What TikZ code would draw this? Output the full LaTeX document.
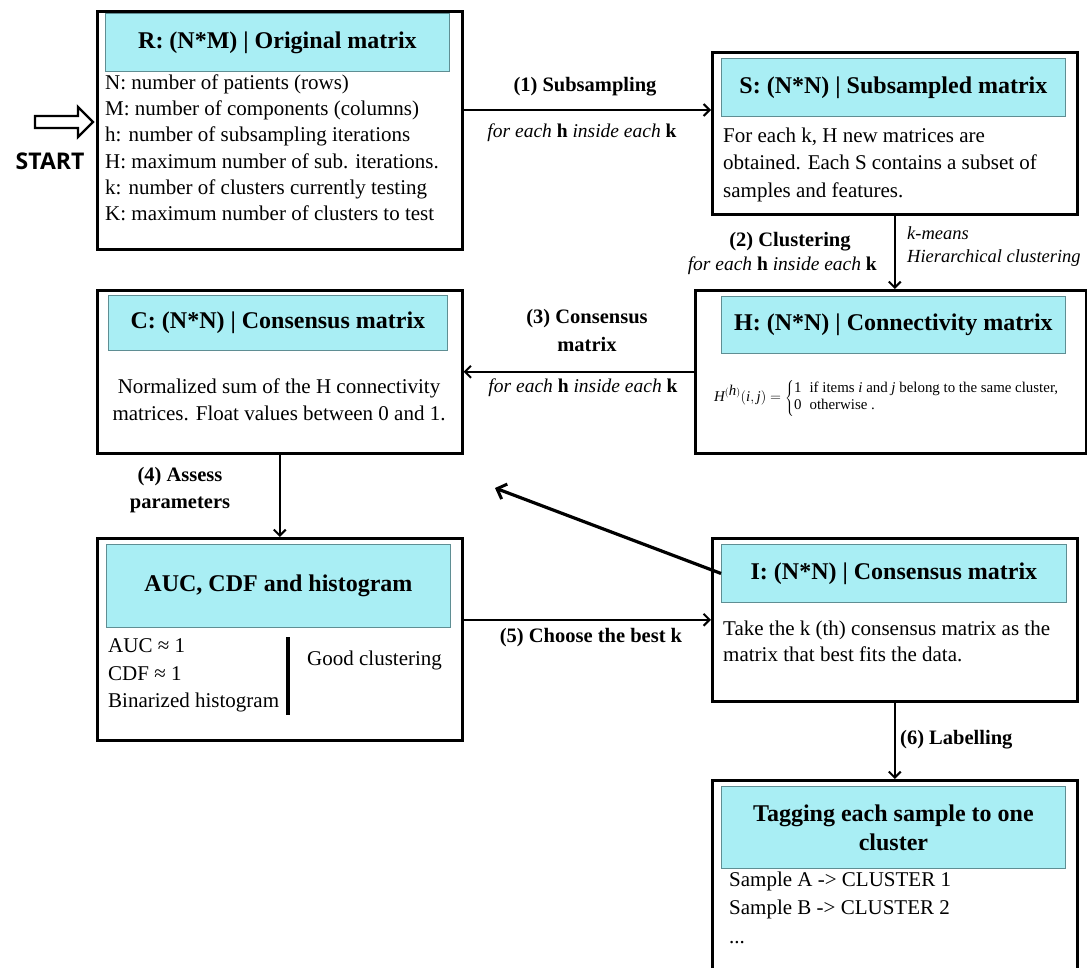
\documentclass[tikz,border=0pt]{standalone}
\usepackage{fontspec}
\setmainfont{Liberation Serif}
\newfontfamily\startfont{Open Sans}
\usetikzlibrary{arrows.meta,calc}

\definecolor{headfill}{HTML}{A9EEF4}
\definecolor{headline}{HTML}{5F8E93}

\newcommand\fsz[2]{\fontsize{#1}{#2}\selectfont}
\newcommand\loopnote{\textit{for each} \textbf{h} \textit{inside each} \textbf{k}}

\begin{document}
\begin{tikzpicture}[x=1pt,y=-1pt,
  frame/.style={draw=black,line width=2.6pt,fill=white,inner sep=0,anchor=north west},
  header/.style={draw=headline,line width=0.9pt,fill=headfill,inner sep=0,anchor=north west,
                 font=\bfseries\fsz{24}{29},align=center},
  body/.style={inner sep=0,anchor=north west,align=left,font=\fsz{21}{27}},
  steplabel/.style={inner sep=0,font=\bfseries\fsz{20.5}{27},align=center},
  loopnotes/.style={inner sep=0,font=\fsz{19.5}{24}},
  arr/.style={line width=2pt,-{Straight Barb[length=6pt,width=12pt,line width=2pt]}},
  backarr/.style={line width=3.2pt,-{Straight Barb[length=8pt,width=16pt,line width=3pt]}}
]
\useasboundingbox (0,0) rectangle (1087,967);
\clip (0,0) rectangle (1087,967);
\fill[white] (0,0) rectangle (1087,967);

% ---------- entry point ----------
\draw[line width=2.4pt,fill=white,line join=miter]
  (35,116) -- (78,116) -- (78,107) -- (93,122) -- (78,137) -- (78,128) -- (35,128) -- cycle;
\node[inner sep=0,font=\startfont\bfseries\fsz{23}{26}] (start) at (50,161) {START};

% ---------- R: original matrix ----------
\node[frame,minimum width=365pt,minimum height=238pt] (R) at (96,10) {};
\node[header,minimum width=344pt,minimum height=58pt] (Rh) at (105,13) {R: (N*M) | Original matrix};
\node[body,font=\fsz{21}{26.2}] (Rt) at (105,74.5) {N: number of patients (rows)\\
M: number of components (columns)\\
h: number of subsampling iterations\\
H: maximum number of sub. iterations.\\
k: number of clusters currently testing\\
K: maximum number of clusters to test};

% ---------- S: subsampled matrix ----------
\node[frame,minimum width=365pt,minimum height=162pt] (S) at (711,51) {};
\node[header,minimum width=344pt,minimum height=58pt] (Sh) at (721,58) {S: (N*N) | Subsampled matrix};
\node[body,font=\fsz{21}{27.5}] (St) at (723,127.5) {For each k, H new matrices are\\
obtained. Each S contains a subset of\\
samples and features.};

% ---------- H: connectivity matrix ----------
\node[frame,minimum width=391pt,minimum height=163pt] (H) at (694,289) {};
\node[header,minimum width=344pt,minimum height=57pt] (Hh) at (721,296) {H: (N*N) | Connectivity matrix};
\node[inner sep=0,anchor=west,font=\fsz{14.9}{17}] (Hf) at (714,398)
  {$\textit{H}^{(\textit{h})}(\textit{i}, \textit{j}) = \left\{\begin{tabular}{@{}l@{\hspace{8pt}}l@{}}
   1 & if items \textit{i} and \textit{j} belong to the same cluster,\\
   0 & otherwise .\end{tabular}\right.$};

% ---------- C: consensus matrix ----------
\node[frame,minimum width=365pt,minimum height=163pt] (C) at (96,289) {};
\node[header,minimum width=339pt,minimum height=55pt] (Ch) at (108,295) {C: (N*N) | Consensus matrix};
\node[body,anchor=north,align=center,font=\fsz{21}{27}] (Ct) at (279,378.5) {Normalized sum of the H connectivity\\
matrices. Float values between 0 and 1.};

% ---------- AUC, CDF and histogram ----------
\node[frame,minimum width=365pt,minimum height=202pt] (A) at (96,537) {};
\node[header,minimum width=344pt,minimum height=83pt] (Ah) at (106,544) {AUC, CDF and histogram};
\node[body,font=\fsz{21}{27.5}] (At) at (108,638.5) {AUC ≈ 1\\
CDF ≈ 1\\
Binarized histogram};
\node[inner sep=0,minimum width=3.5pt,minimum height=78pt,fill=black,anchor=north] (Abar) at (288,637) {};
\node[inner sep=0,anchor=west,font=\fsz{21}{27}] (Agood) at (307,660) {Good clustering};

% ---------- I: chosen consensus matrix ----------
\node[frame,minimum width=365pt,minimum height=163pt] (I) at (711,537) {};
\node[header,minimum width=345pt,minimum height=58pt] (Ih) at (721,544) {I: (N*N) | Consensus matrix};
\node[body,font=\fsz{21}{26.5}] (It) at (723,620.5) {Take the k (th) consensus matrix as the\\
matrix that best fits the data.};

% ---------- tagging ----------
\node[frame,minimum width=365pt,minimum height=210pt] (T) at (711,779) {};
\node[header,minimum width=344pt,minimum height=82pt,font=\bfseries\fsz{24}{29}] (Th) at (721,786)
  {Tagging each sample to one\\cluster};
\node[body,font=\fsz{21}{28.5}] (Tt) at (729,871.5) {Sample A -> CLUSTER 1\\
Sample B -> CLUSTER 2\\
...};

% ---------- connectors ----------
\coordinate (row1) at (0,110);
\coordinate (backtip) at (495,488);

\draw[arr] (R.east |- row1) -- (S.west |- row1);
\node[steplabel] (l1a) at (585,87) {(1) Subsampling};
\node[loopnotes] (l1b) at (582,133) {\loopnote};

\draw[arr] (S.south) -- (S.south |- H.north);
\node[steplabel] (l2a) at (790,242) {(2) Clustering};
\node[loopnotes,anchor=east] (l2b) at (877,266) {\loopnote};
\node[inner sep=0,anchor=west,font=\itshape\fsz{18.5}{24}] (l2c) at (907,233) {k-means};
\node[inner sep=0,anchor=west,font=\itshape\fsz{18.5}{24}] (l2d) at (907,258) {Hierarchical clustering};

\draw[arr] (H.west) -- (C.east |- H.west);
\node[steplabel,font=\bfseries\fsz{20.5}{28}] (l3a) at (587,330) {(3) Consensus\\matrix};
\node[loopnotes] (l3b) at (583,388) {\loopnote};

\draw[arr] (C.south) -- (C.south |- A.north);
\node[steplabel] (l4) at (180,490) {(4) Assess\\parameters};

\draw[arr] (A.east |- I.west) -- (I.west);
\node[steplabel] (l5) at (591,638) {(5) Choose the best k};

\draw[backarr] (Ih.west) -- (backtip);

\draw[arr] (I.south) -- (I.south |- T.north);
\node[steplabel,anchor=west] (l6) at (900,740) {(6) Labelling};
\end{tikzpicture}
\end{document}
